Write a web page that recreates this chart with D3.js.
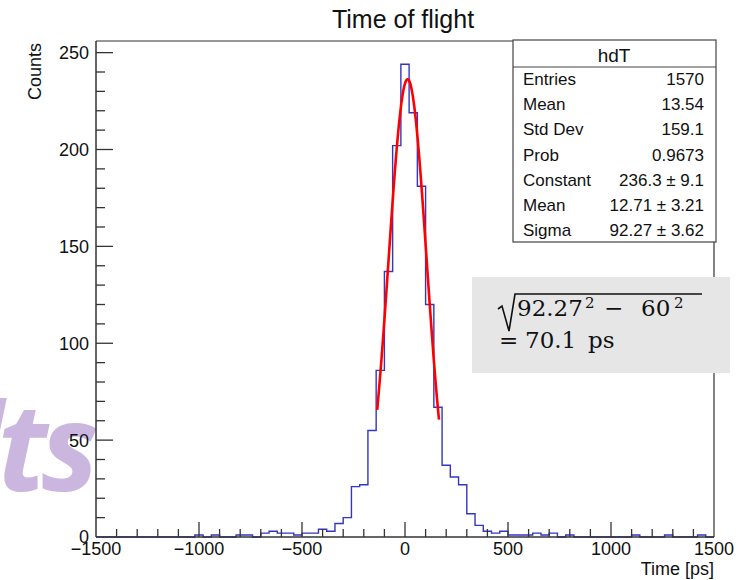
<!DOCTYPE html>
<html>
<head>
<meta charset="utf-8">
<script src="https://cdn.jsdelivr.net/npm/d3@7"></script>
<style>
body { margin: 0; background: #fff; }
text { font-family: "Liberation Sans", Arial, sans-serif; }
</style>
</head>
<body>
<div id="chart"></div>
<script>
// histogram hdT: 75 bins of 40 ps from -1500 to 1500
const binStart = -1500;
const binWidth = 40;
const counts = [
    0, 0, 0, 0, 0, 0, 0, 0, 0, 0,
    0, 0, 1, 0, 1, 0, 0, 1, 1, 0,
    2, 3, 2, 2, 1, 2, 2, 4, 3, 7,
    10, 26, 27, 55, 86, 137, 202, 244, 219, 181,
    120, 67, 37, 31, 27, 12, 6, 3, 2, 3,
    1, 1, 1, 2, 1, 2, 0, 1, 0, 0,
    0, 0, 0, 0, 0, 1, 0, 0, 0, 1,
    0, 0, 0, 1, 0
];

// gaus fit
const fitConstant = 236.3;
const fitMean = 12.71;
const fitSigma = 92.27;
const fitRange = [-135, 165];

const xTicks = [-1500, -1000, -500, 0, 500, 1000, 1500];
const yTicks = [0, 50, 100, 150, 200, 250];

const statLabels = ["Entries", "Mean", "Std Dev", "Prob", "Constant", "Mean", "Sigma"];
const statValues = ["1570", "13.54", "159.1", "0.9673", "236.3 \u00b1 9.1", "12.71 \u00b1 3.21", "92.27 \u00b1 3.62"];

var width = 756, height = 580;
var frame = {left: 96, right: 714, top: 41, bottom: 537};

var svg = d3.select("#chart")
    .append("svg")
    .attr("width", width)
    .attr("height", height);

const x = d3.scaleLinear()
    .domain([-1500, 1500])
    .range([frame.left, frame.right]);

const y = d3.scaleLinear()
    .domain([0, 256])
    .range([frame.bottom, frame.top]);

// watermark left over from the slide
svg.append("text")
    .attr("x", 93)
    .attr("y", 491)
    .attr("text-anchor", "end")
    .style("font-family", "'Open Sans', sans-serif")
    .style("font-weight", "bold")
    .style("font-style", "italic")
    .style("font-size", "122px")
    .style("letter-spacing", "-6px")
    .style("fill", "#cbb6df")
    .text("Results");

// title
svg.append("text")
    .attr("x", 403)
    .attr("y", 28)
    .attr("text-anchor", "middle")
    .style("font-size", "25px")
    .style("fill", "#111")
    .text("Time of flight");

// frame top and right
svg.append("path")
    .attr("d", "M" + frame.left + "," + frame.top + "H" + frame.right + "V" + frame.bottom)
    .style("fill", "none")
    .style("stroke", "#333")
    .style("stroke-width", 1.2);

// histogram outline
var pts = [[x(binStart), y(0)]];
counts.forEach(function(c, i) {
    var x0 = x(binStart + i * binWidth), x1 = x(binStart + (i + 1) * binWidth);
    pts.push([x0, y(c)]);
    pts.push([x1, y(c)]);
});
pts.push([x(binStart + counts.length * binWidth), y(0)]);

svg.append("path")
    .attr("d", d3.line()(pts))
    .style("fill", "none")
    .style("stroke", "#3535c0")
    .style("stroke-width", 1.4);

// fit curve
var fitPts = d3.range(fitRange[0], fitRange[1] + 0.1, 3).map(function(t) {
    var z = (t - fitMean) / fitSigma;
    return [x(t), y(fitConstant * Math.exp(-0.5 * z * z))];
});
svg.append("path")
    .attr("d", d3.line().curve(d3.curveBasis)(fitPts))
    .style("fill", "none")
    .style("stroke", "#ff0000")
    .style("stroke-width", 2.6);

// axes
var xAxis = svg.append("g")
    .attr("transform", "translate(0," + frame.bottom + ")");
xAxis.append("line")
    .attr("x1", frame.left).attr("x2", frame.right)
    .style("stroke", "#333").style("stroke-width", 1.5);
xAxis.selectAll(".minor")
    .data(d3.range(-1400, 1500, 100))
    .enter().append("line")
    .attr("x1", d => x(d)).attr("x2", d => x(d))
    .attr("y1", 0).attr("y2", d => d % 500 === 0 ? -15 : -8)
    .style("stroke", "#333").style("stroke-width", 1.3);
xAxis.selectAll(".lab")
    .data(xTicks)
    .enter().append("text")
    .attr("x", d => x(d))
    .attr("y", 18)
    .attr("text-anchor", "middle")
    .style("font-size", "18px")
    .style("fill", "#111")
    .text(d => d < 0 ? "\u2212" + (-d) : d);

var yAxis = svg.append("g")
    .attr("transform", "translate(" + frame.left + ",0)");
yAxis.append("line")
    .attr("y1", frame.bottom).attr("y2", frame.top)
    .style("stroke", "#333").style("stroke-width", 1.5);
yAxis.selectAll(".minor")
    .data(d3.range(10, 256, 10))
    .enter().append("line")
    .attr("y1", d => y(d)).attr("y2", d => y(d))
    .attr("x1", 0).attr("x2", d => d % 50 === 0 ? 17 : 9)
    .style("stroke", "#333").style("stroke-width", 1.3);
yAxis.selectAll(".lab")
    .data(yTicks)
    .enter().append("text")
    .attr("x", -7)
    .attr("y", d => y(d))
    .attr("dy", "0.36em")
    .attr("text-anchor", "end")
    .style("font-size", "18px")
    .style("fill", "#111")
    .text(d => d);

svg.append("text")
    .attr("transform", "translate(41,43) rotate(-90)")
    .attr("text-anchor", "end")
    .style("font-size", "18px")
    .style("fill", "#111")
    .text("Counts");

svg.append("text")
    .attr("x", frame.right)
    .attr("y", 575)
    .attr("text-anchor", "end")
    .style("font-size", "18px")
    .style("fill", "#111")
    .text("Time [ps]");

// stats box
var stats = svg.append("g");
stats.append("rect")
    .attr("x", 513).attr("y", 40)
    .attr("width", 203).attr("height", 202)
    .style("fill", "#fff")
    .style("stroke", "#444")
    .style("stroke-width", 1.2);
stats.append("line")
    .attr("x1", 513).attr("x2", 716)
    .attr("y1", 67).attr("y2", 67)
    .style("stroke", "#444").style("stroke-width", 1.2);
stats.append("text")
    .attr("x", 614).attr("y", 62)
    .attr("text-anchor", "middle")
    .style("font-size", "19px")
    .style("fill", "#111")
    .text("hdT");
stats.selectAll(".sl")
    .data(statLabels)
    .enter().append("text")
    .attr("x", 523)
    .attr("y", (d, i) => 85 + i * 25.2)
    .style("font-size", "17px")
    .style("fill", "#111")
    .text(d => d);
stats.selectAll(".sv")
    .data(statValues)
    .enter().append("text")
    .attr("x", 704)
    .attr("y", (d, i) => 85 + i * 25.2)
    .attr("text-anchor", "end")
    .style("font-size", "17px")
    .style("fill", "#111")
    .text(d => d);

// resolution note
var note = svg.append("g");
note.append("rect")
    .attr("x", 472).attr("y", 277)
    .attr("width", 258).attr("height", 96)
    .style("fill", "#e6e6e6");
note.append("path")
    .attr("d", "M498,309 L502,306 L509,331 L515,294 L702,294")
    .style("fill", "none")
    .style("stroke", "#111")
    .style("stroke-width", 1.6);
var l1 = note.append("text")
    .attr("y", 316)
    .style("font-family", "'DejaVu Serif', serif")
    .style("fill", "#111")
    .style("font-size", "23px");
l1.append("tspan").attr("x", 517).text("92.27");
l1.append("tspan").attr("x", 585).attr("y", 308).style("font-size", "15px").text("2");
l1.append("tspan").attr("x", 604).attr("y", 316).text("\u2212");
l1.append("tspan").attr("x", 641).text("60");
l1.append("tspan").attr("x", 674).attr("y", 308).style("font-size", "15px").text("2");
var l2 = note.append("text")
    .attr("y", 348)
    .style("font-family", "'DejaVu Serif', serif")
    .style("fill", "#111")
    .style("font-size", "23px");
l2.append("tspan").attr("x", 499).text("=");
l2.append("tspan").attr("x", 525).text("70.1");
l2.append("tspan").attr("x", 588).text("ps");
</script>
</body>
</html>
